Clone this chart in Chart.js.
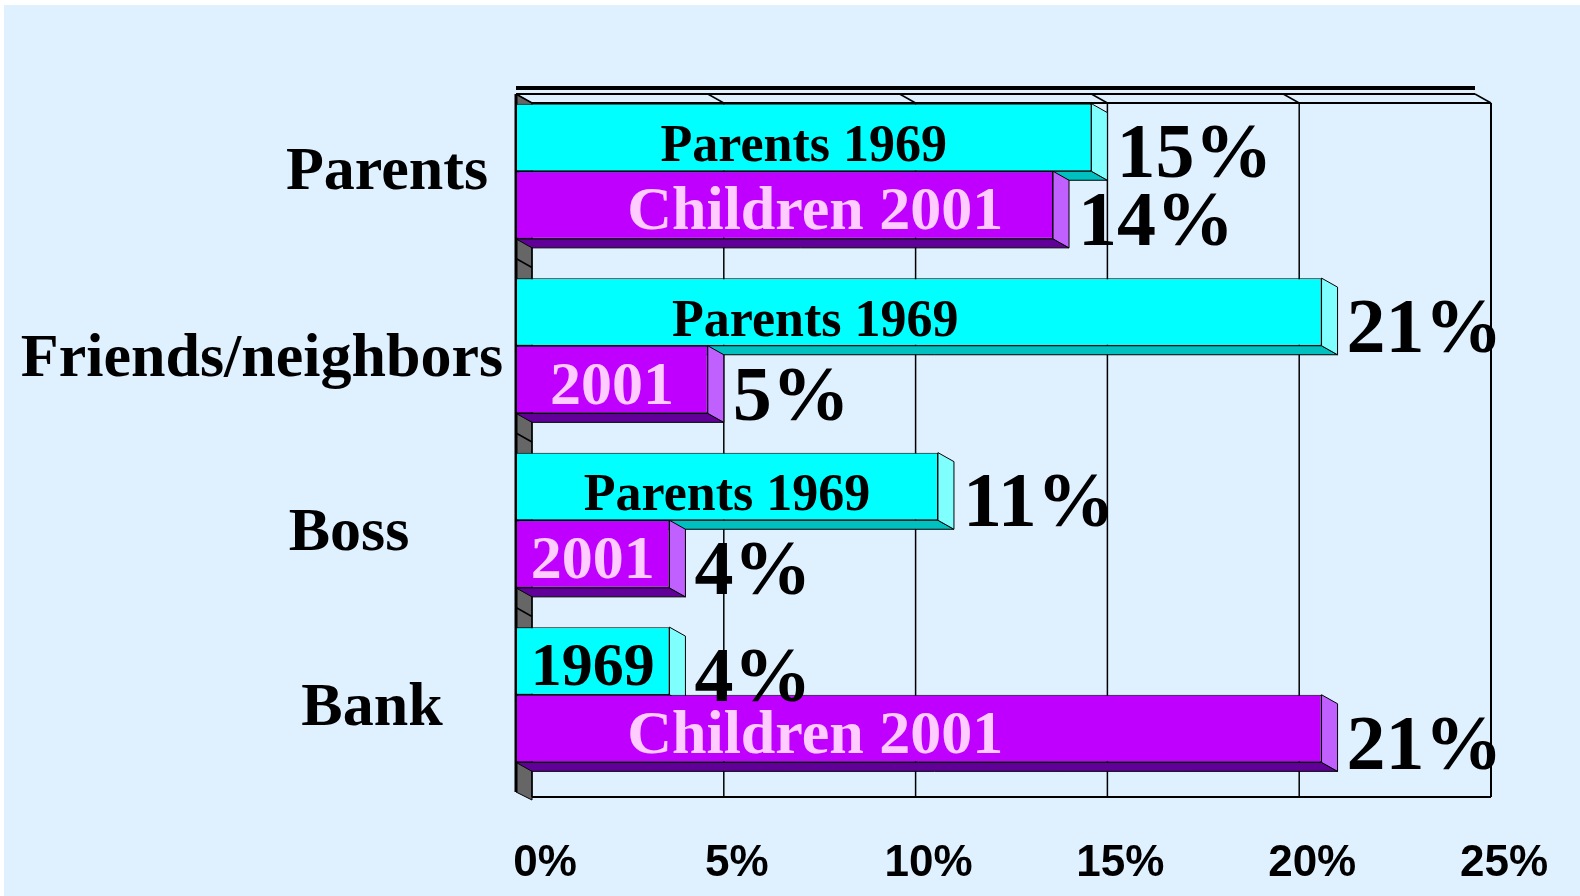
<!DOCTYPE html>
<html>
<head>
<meta charset="utf-8">
<script src="https://cdn.jsdelivr.net/npm/chart.js@4"></script>
<style>
  html, body { margin: 0; padding: 0; background: #fff; }
</style>
</head>
<body>
<canvas id="chart" width="1580" height="896"></canvas>
<script>
// data
const categories = ["Parents", "Friends/neighbors", "Boss", "Bank"];
const parents1969 = [15, 21, 11, 4];
const children2001 = [14, 5, 4, 21];
const parentsTags = ["Parents 1969", "Parents 1969", "Parents 1969", "1969"];
const childrenTags = ["Children 2001", "2001", "2001", "Children 2001"];
const xTicks = [0, 5, 10, 15, 20, 25];

// layout bits (text boxes sit where the slide put them): [center x, dy from category]
const catLabelPos = [[387, 18], [262, 30], [349, 30], [372, 30]];
const DX = 16, DY = 9; // 3d depth
const SERIF = '"Liberation Serif", "Times New Roman", serif';
const SANS = '"Liberation Sans", Arial, sans-serif';

const faceColors = [
  { side: "#80FFFF", bottom: "#00C0C0" },
  { side: "#C060FF", bottom: "#600099" },
];

function poly(ctx, pts, fill) {
  ctx.beginPath();
  ctx.moveTo(pts[0][0], pts[0][1]);
  for (let i = 1; i < pts.length; i++) ctx.lineTo(pts[i][0], pts[i][1]);
  ctx.closePath();
  if (fill) { ctx.fillStyle = fill; ctx.fill(); }
  ctx.stroke();
}

function line(ctx, x0, y0, x1, y1, w) {
  ctx.lineWidth = w;
  ctx.beginPath();
  ctx.moveTo(x0, y0);
  ctx.lineTo(x1, y1);
  ctx.stroke();
}

const scene = {
  id: "scene",
  beforeDraw(chart) {
    const ctx = chart.ctx;
    const xs = chart.scales.x, ys = chart.scales.y;
    ctx.save();
    ctx.fillStyle = "#fff";
    ctx.fillRect(0, 0, chart.width, chart.height);
    ctx.fillStyle = "#DFF0FF";
    ctx.fillRect(4, 5, chart.width - 4, chart.height - 5);

    const L = xs.getPixelForValue(0), R = xs.getPixelForValue(25);
    const yT = 94, yB = 797;
    ctx.strokeStyle = "#000";

    // left wall
    ctx.lineWidth = 1;
    poly(ctx, [[L, yT], [L + DX, yT + DY], [L + DX, yB + 3], [L, yB - DY + 4]], "#666666");
    for (let i = 0; i < categories.length - 1; i++) {
      const yb = (ys.getPixelForValue(i) + ys.getPixelForValue(i + 1)) / 2;
      line(ctx, L, yb, L + DX, yb + DY, 1.5);
    }

    // back wall gridlines and ceiling
    xTicks.forEach(t => {
      const px = xs.getPixelForValue(t);
      line(ctx, px + DX, yT + DY, px + DX, yB, 1.5);
      line(ctx, px, yT, px + DX, yT + DY, 1.5);
    });
    line(ctx, L + DX, yT + DY, R + DX, yT + DY, 2);
    line(ctx, L, yT, R, yT, 2);
    line(ctx, L, yT - 6, R, yT - 6, 4);
    line(ctx, L + DX, yB, R + DX, yB, 2);
    line(ctx, R + DX, yT + DY, R + DX, yB, 2);
    line(ctx, L, yT, L, yB - DY + 4, 3);
    ctx.restore();
  },
  beforeDatasetsDraw(chart) {
    const ctx = chart.ctx;
    ctx.save();
    ctx.strokeStyle = "#000";
    ctx.lineWidth = 1;
    chart.data.datasets.forEach((ds, di) => {
      const meta = chart.getDatasetMeta(di);
      meta.data.forEach(bar => {
        const x0 = bar.base, x1 = bar.x;
        const y0 = bar.y - bar.height / 2, y1 = bar.y + bar.height / 2;
        poly(ctx, [[x0, y1], [x1, y1], [x1 + DX, y1 + DY], [x0 + DX, y1 + DY]], faceColors[di].bottom);
        poly(ctx, [[x1, y0], [x1 + DX, y0 + DY], [x1 + DX, y1 + DY], [x1, y1]], faceColors[di].side);
      });
    });
    ctx.restore();
  },
  afterDatasetsDraw(chart) {
    const ctx = chart.ctx;
    const xs = chart.scales.x, ys = chart.scales.y;
    ctx.save();
    ctx.textBaseline = "alphabetic";
    const tagSets = [parentsTags, childrenTags];
    const tagColors = ["#000000", "#FFCCFF"];
    const cap = xs.getPixelForValue(7.8);
    chart.data.datasets.forEach((ds, di) => {
      const meta = chart.getDatasetMeta(di);
      meta.data.forEach((bar, i) => {
        const tag = tagSets[di][i];
        const size = tag.startsWith("Parents") ? 52 : 62;
        ctx.font = "bold " + size + "px " + SERIF;
        const half = ctx.measureText(tag).width / 2;
        const mid = (bar.base + bar.x) / 2;
        const cx = di === 0 ? Math.min(cap, mid) : Math.min(cap, Math.max(mid, bar.x - half - 40));
        ctx.fillStyle = tagColors[di];
        ctx.textAlign = "center";
        ctx.fillText(tag, cx, bar.y + 24);
      });
    });
    // value labels
    chart.data.datasets.forEach((ds, di) => {
      const meta = chart.getDatasetMeta(di);
      meta.data.forEach((bar, i) => {
        ctx.font = "bold 78px " + SERIF;
        ctx.fillStyle = "#000";
        ctx.textAlign = "left";
        ctx.fillText(ds.data[i] + "%", bar.x + 25, bar.y + 40);
      });
    });
    // category labels
    ctx.font = "bold 62px " + SERIF;
    ctx.fillStyle = "#000";
    ctx.textAlign = "center";
    categories.forEach((c, i) => {
      ctx.fillText(c, catLabelPos[i][0], ys.getPixelForValue(i) + catLabelPos[i][1]);
    });
    // x tick labels
    ctx.font = "bold 44px " + SANS;
    xTicks.forEach(t => {
      ctx.fillText(t + "%", xs.getPixelForValue(t) + 29, 876);
    });
    ctx.restore();
  },
};

new Chart(document.getElementById("chart"), {
  type: "bar",
  data: {
    labels: categories,
    datasets: [
      {
        label: "Parents 1969",
        data: parents1969,
        backgroundColor: "#00FFFF",
        borderColor: "#000",
        borderWidth: 1,
        borderSkipped: false,
        categoryPercentage: 0.775,
        barPercentage: 1,
      },
      {
        label: "Children 2001",
        data: children2001,
        backgroundColor: "#C000FF",
        borderColor: "#000",
        borderWidth: 1,
        borderSkipped: false,
        categoryPercentage: 0.775,
        barPercentage: 1,
      },
    ],
  },
  options: {
    indexAxis: "y",
    responsive: false,
    animation: false,
    devicePixelRatio: 1,
    layout: { padding: { left: 516, right: 105, top: 84, bottom: 114 } },
    plugins: {
      legend: { display: false },
      tooltip: { enabled: false },
    },
    scales: {
      x: {
        min: 0,
        max: 25,
        grid: { display: false, drawTicks: false },
        border: { display: false },
        ticks: { display: false, stepSize: 5 },
      },
      y: {
        display: false,
      },
    },
  },
  plugins: [scene],
});
</script>
</body>
</html>
